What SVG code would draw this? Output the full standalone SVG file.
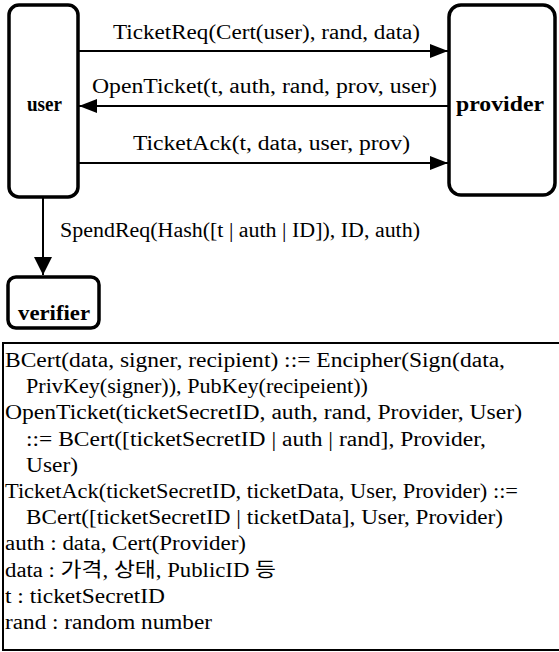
<svg xmlns="http://www.w3.org/2000/svg" width="559" height="652" viewBox="0 0 559 652">
  <style>
    .node { fill: #fff; stroke: #000; stroke-width: 3.5; }
    .edge { stroke: #000; stroke-width: 2; fill: none; }
    text { font-family: "Liberation Serif", "Noto Sans CJK KR", serif; font-size: 20px; fill: #000; }
    .name { font-weight: bold; text-anchor: middle; }
  </style>
  <defs>
    <marker id="arrow" viewBox="0 0 18 14" refX="18" refY="7" markerWidth="18" markerHeight="14" markerUnits="userSpaceOnUse" orient="auto">
      <path d="M0,0 L18,7 L0,14 Z" fill="#000"/>
    </marker>
    <marker id="arrow-down" viewBox="0 0 18 18" refX="18" refY="9" markerWidth="18" markerHeight="18" markerUnits="userSpaceOnUse" orient="auto">
      <path d="M0,0 L18,9 L0,18 Z" fill="#000"/>
    </marker>
  </defs>

  <!-- nodes -->
  <g id="user">
    <rect class="node" x="9" y="5" width="69" height="192" rx="10"/>
    <text class="name" x="44.5" y="111" textLength="35" lengthAdjust="spacingAndGlyphs">user</text>
  </g>
  <g id="provider">
    <rect class="node" x="449" y="5" width="106" height="190" rx="12"/>
    <text class="name" x="500" y="111" textLength="88" lengthAdjust="spacingAndGlyphs">provider</text>
  </g>
  <g id="verifier">
    <rect class="node" x="8" y="277" width="91" height="51" rx="8"/>
    <text class="name" x="54" y="320" textLength="72" lengthAdjust="spacingAndGlyphs">verifier</text>
  </g>

  <!-- connectors -->
  <g id="connectors">
    <line class="edge" x1="78" y1="51" x2="448" y2="51" marker-end="url(#arrow)"/>
    <text x="113" y="39" textLength="307" lengthAdjust="spacingAndGlyphs">TicketReq(Cert(user), rand, data)</text>
    <line class="edge" x1="449" y1="106" x2="79" y2="106" marker-end="url(#arrow)"/>
    <text x="92" y="93" textLength="345" lengthAdjust="spacingAndGlyphs">OpenTicket(t, auth, rand, prov, user)</text>
    <line class="edge" x1="78" y1="163" x2="448" y2="163" marker-end="url(#arrow)"/>
    <text x="133" y="150" textLength="277" lengthAdjust="spacingAndGlyphs">TicketAck(t, data, user, prov)</text>
    <line class="edge" x1="43" y1="197" x2="43" y2="275" marker-end="url(#arrow-down)"/>
    <text x="60" y="237" textLength="360" lengthAdjust="spacingAndGlyphs">SpendReq(Hash([t | auth | ID]), ID, auth)</text>
  </g>

  <!-- definitions box, open on the right -->
  <g id="definitions">
    <path d="M560,343 L3,343 L3,650 L560,650" fill="none" stroke="#000" stroke-width="2"/>
    <text x="5" y="367" textLength="500" lengthAdjust="spacingAndGlyphs">BCert(data, signer, recipient) ::= Encipher(Sign(data,</text>
    <text x="26" y="393" textLength="342" lengthAdjust="spacingAndGlyphs">PrivKey(signer)), PubKey(recipeient))</text>
    <text x="5" y="419" textLength="517" lengthAdjust="spacingAndGlyphs">OpenTicket(ticketSecretID, auth, rand, Provider, User)</text>
    <text x="26" y="446" textLength="460" lengthAdjust="spacingAndGlyphs">::= BCert([ticketSecretID | auth | rand], Provider,</text>
    <text x="26" y="472" textLength="52" lengthAdjust="spacingAndGlyphs">User)</text>
    <text x="5" y="498" textLength="513" lengthAdjust="spacingAndGlyphs">TicketAck(ticketSecretID, ticketData, User, Provider) ::=</text>
    <text x="26" y="524" textLength="477" lengthAdjust="spacingAndGlyphs">BCert([ticketSecretID | ticketData], User, Provider)</text>
    <text x="5" y="550" textLength="241" lengthAdjust="spacingAndGlyphs">auth : data, Cert(Provider)</text>
    <text x="5" y="577" textLength="271" lengthAdjust="spacingAndGlyphs">data : 가격, 상태, PublicID 등</text>
    <text x="5" y="603" textLength="160" lengthAdjust="spacingAndGlyphs">t : ticketSecretID</text>
    <text x="5" y="629" textLength="207" lengthAdjust="spacingAndGlyphs">rand : random number</text>
  </g>
</svg>
